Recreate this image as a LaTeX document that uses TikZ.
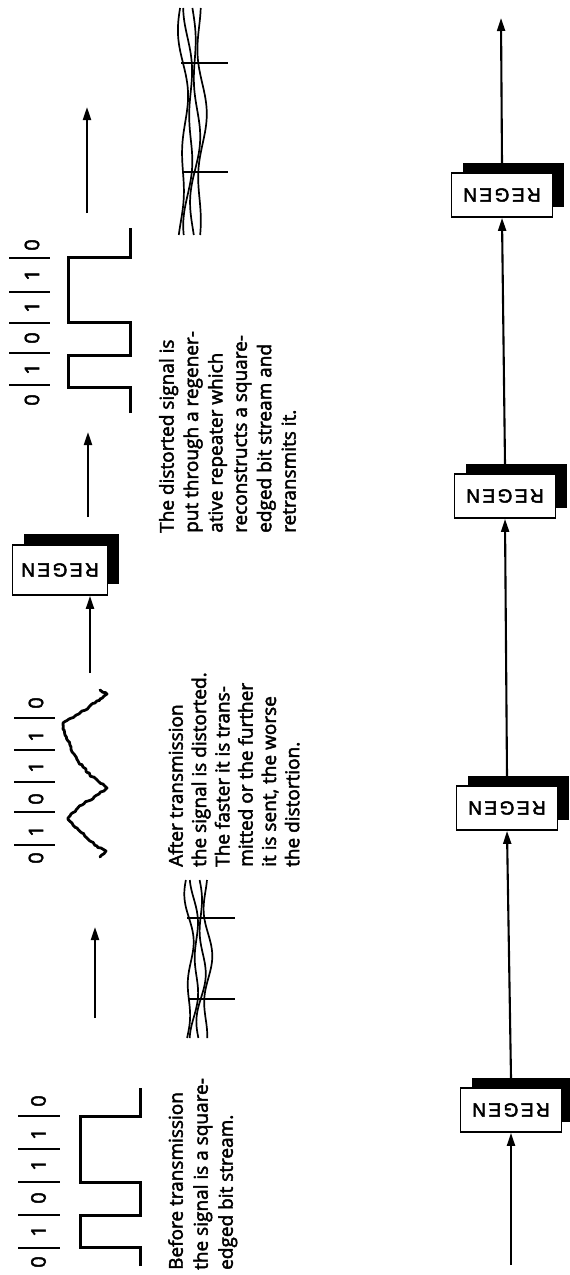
\documentclass[tikz,border=0pt]{standalone}
\usepackage{fontspec}
\usepackage{graphicx}
\setmainfont{Open Sans}[FakeBold=2.4]
\newfontfamily\regenfont{Liberation Sans}[FakeBold=2.6]
\usetikzlibrary{arrows.meta,calc,decorations.pathmorphing}
\tikzset{
  bodytext/.style={rotate=90, anchor=north west, inner sep=0pt, align=left},
  digit/.style={rotate=90, inner sep=0pt, font=\fontsize{20}{20}\selectfont},
  regenbox/.style={draw, fill=white, line width=1.8pt, minimum width=101pt, minimum height=44pt, inner sep=0pt,
    font=\regenfont\fontsize{19}{19}\selectfont},
  regenshadow/.style={fill=black, minimum width=101pt, minimum height=44pt, inner sep=0pt},
  sqwave/.style={line width=3pt, line join=miter},
  flowarrow/.style={line width=2.1pt, -{Triangle[length=13pt,width=8pt]}},
  bitsep/.style={line width=2pt},
  eyeline/.style={line width=1.7pt},
  eyetick/.style={line width=1.5pt},
}
\newcommand{\regenlabel}{\rotatebox{180}{R\hspace{2.5pt}E\hspace{2.5pt}G\hspace{2.5pt}E\hspace{2.5pt}N}}
\begin{document}
\begin{tikzpicture}[x=1pt,y=-1pt]
\pgfmathsetseed{7}
\useasboundingbox[fill=white] (0,0) rectangle (570,1275);

% ---------- stage 1: original square wave ----------
\draw[sqwave] (140,1266) -- (140,1247) -- (80,1247) -- (80,1215) -- (140,1215) -- (140,1182)
  -- (80,1182) -- (80,1116) -- (140,1116) -- (140,1088);
\foreach \d/\yy [count=\k] in {0/1262,1/1231,0/1198,1/1165,1/1134,0/1101}
  \node[digit] (ba\k) at (38.5,\yy) {\d};
\foreach \yy in {1248,1215,1182,1149,1116}
  \draw[bitsep] (18,\yy) -- (60,\yy);
\node[bodytext, font=\fontsize{19}{25}\selectfont] (txtA) at (168,1270)
  {Before transmission\\the signal is a square-\\edged bit stream.};

% arrow 1
\coordinate (a1s) at (95,1018);
\coordinate (a1e) at (95,927);
\draw[flowarrow] (a1s) -- (a1e);

% eye pattern 1
\foreach \i in {0,1,2,3}
  \draw[eyeline] plot[domain=880:1038, samples=60, smooth, variable=\t]
    ({189 + 2.5*sin(2.2222*(\t-918)) + 6*\i + 2.8*sin(4.4*(\t-918) + 95*\i)}, \t);
\draw[eyetick] (187,918) -- (235,918);
\draw[eyetick] (188,999) -- (235,999);

% ---------- stage 2: distorted wave ----------
\draw[line width=2.8pt, line join=round, line cap=round, decorate,
      decoration={random steps, segment length=2.5pt, amplitude=1pt}]
  (100,857) -- (106,851) -- (101,848) -- (97,846) -- (92,842) -- (87,838) -- (82,833) -- (77,828)
  -- (72,823) -- (68,818) -- (71,814) -- (76,810) -- (82,805) -- (88,801) -- (94,797) -- (99,794)
  -- (104,791) -- (107,788) -- (103,784) -- (98,781) -- (93,777) -- (88,773) -- (83,767) -- (78,761)
  -- (74,754) -- (71,747) -- (68,741) -- (65,735) -- (63,729) -- (63,723) -- (69,719) -- (75,716)
  -- (82,711) -- (89,707) -- (95,703) -- (100,699) -- (104,696) -- (107,694) -- (100,690);
\foreach \d/\yy [count=\k] in {0/858,1/831,0/799,1/767,1/736,0/703}
  \node[digit] (bb\k) at (36,\yy) {\d};
\foreach \yy in {845,812,782,750,718}
  \draw[bitsep] (14,\yy) -- (55,\yy);
\node[bodytext, font=\fontsize{19}{23.3}\selectfont] (txtB) at (168,867)
  {After transmission\\the signal is distorted.\\The faster it is trans-\\mitted or the further\\it is sent, the worse\\the distortion.};

% regenerator in top row
\node[regenshadow, minimum width=95pt, minimum height=50pt] (rg0s) at (71,559) {};
\node[regenbox, minimum width=95pt, minimum height=50pt] (rg0) at (60,570) {\regenlabel};
\coordinate (a2s) at (90,673);
\draw[flowarrow] (a2s) -- (a2s |- rg0.south);
\coordinate (a3s) at (88,517);
\coordinate (a3e) at (88,432);
\draw[flowarrow] (a3s) -- (a3e);

% ---------- stage 3: regenerated square wave ----------
\draw[sqwave] (130,413) -- (130,387) -- (68,387) -- (68,355) -- (130,355) -- (130,322)
  -- (68,322) -- (68,257) -- (130,257) -- (130,228);
\foreach \d/\yy [count=\k] in {0/400,1/369,0/338,1/307,1/275,0/245}
  \node[digit] (bc\k) at (32,\yy) {\d};
\foreach \yy in {385,353,323,292,258}
  \draw[bitsep] (9,\yy) -- (50,\yy);
\node[bodytext, font=\fontsize{19}{24.4}\selectfont] (txtC) at (159,533)
  {The distorted signal is\\put through a regener-\\ative repeater which\\reconstructs a square-\\edged bit stream and\\retransmits it.};

% arrow 4
\coordinate (a4s) at (87,213);
\coordinate (a4e) at (87,107);
\draw[flowarrow] (a4s) -- (a4e);

% eye pattern 2
\foreach \i in {0,1,2,3}
  \draw[eyeline] plot[domain=8:235, samples=80, smooth, variable=\t]
    ({183 + 3*sin(1.6514*(\t-63)) + 6*\i + 2.8*sin(3.3*(\t-63) + 95*\i)}, \t);
\draw[eyetick] (181,63) -- (228,63);
\draw[eyetick] (182,172) -- (228,172);

% ---------- chain of regenerators ----------
\node[regenshadow] (r1s) at (522,1100) {};
\node[regenbox] (r1) at (511,1110) {\regenlabel};
\node[regenshadow] (r2s) at (518,798) {};
\node[regenbox] (r2) at (507,808) {\regenlabel};
\node[regenshadow] (r3s) at (516,486) {};
\node[regenbox] (r3) at (505,496) {\regenlabel};
\node[regenshadow] (r4s) at (513,185) {};
\node[regenbox] (r4) at (502,195) {\regenlabel};
\coordinate (c0) at (511,1265);
\coordinate (c5) at (501,18);
\draw[flowarrow] (c0) -- (r1.south);
\draw[flowarrow] (r1s.north -| r1.center) -- (r2.south);
\draw[flowarrow] (r2s.north -| r2.center) -- (r3.south);
\draw[flowarrow] (r3s.north -| r3.center) -- (r4.south);
\draw[flowarrow] (r4s.north -| r4.center) -- (c5);
\end{tikzpicture}
\end{document}
